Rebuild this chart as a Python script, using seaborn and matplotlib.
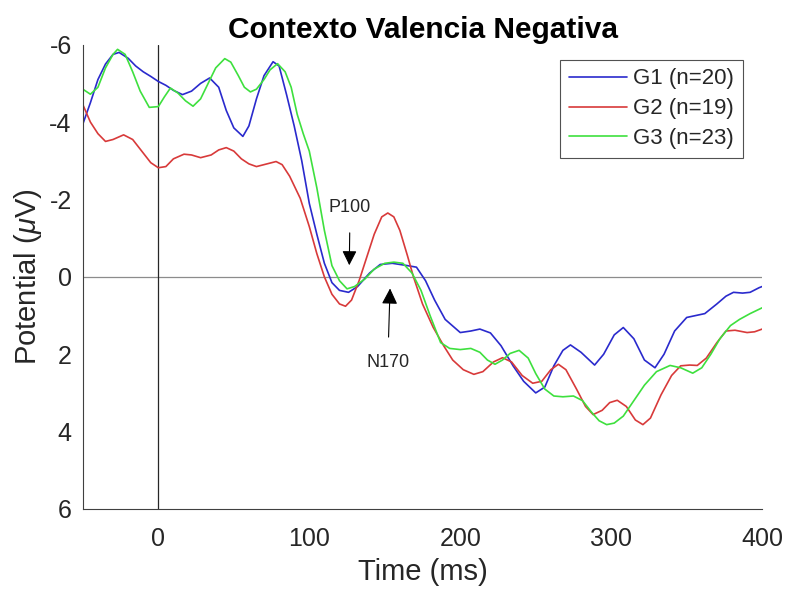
import numpy as np
import pandas as pd
import matplotlib
matplotlib.use("Agg")
import matplotlib.pyplot as plt
import seaborn as sns

g1_x = [-50,-45,-40,-35,-30,-26,-20,-15,-10,-5,0,5,10,16,22,28,34,40,45,50,56,60,65,70,76,80,85,90,95,100,105,110,115,120,126,132,140,147,155,165,171,177,183,190,200,207,213,220,227,235,242,250,256,262,268,273,280,289,295,302,308,315,322,329,335,342,350,356,362,370,376,381,387,392,398,400]
g1_y = [-3.95,-4.5,-5.1,-5.5,-5.75,-5.8,-5.65,-5.45,-5.3,-5.18,-5.05,-4.95,-4.82,-4.71,-4.8,-5.0,-5.14,-4.9,-4.3,-3.85,-3.63,-3.9,-4.6,-5.2,-5.56,-5.45,-4.7,-3.9,-3.0,-1.9,-1.1,-0.35,0.15,0.35,0.4,0.25,-0.1,-0.32,-0.35,-0.29,-0.25,0.1,0.6,1.1,1.44,1.4,1.35,1.45,1.78,2.3,2.7,3.0,2.85,2.3,1.9,1.76,1.95,2.28,2.0,1.5,1.31,1.6,2.15,2.35,2.0,1.4,1.05,1.0,0.95,0.7,0.5,0.4,0.42,0.4,0.28,0.25]

g2_x = [-50,-45,-40,-35,-30,-23,-17,-10,-5,0,5,10,17,22,28,35,40,45,50,55,60,65,70,78,82,87,94,100,105,110,115,120,124,128,133,138,143,148,152,156,160,165,169,175,182,189,195,202,209,215,222,228,234,241,248,254,260,265,270,277,283,288,294,299,304,310,316,321,326,333,340,346,352,357,363,370,376,382,390,395,400]
g2_y = [-4.45,-4.0,-3.7,-3.5,-3.55,-3.67,-3.55,-3.2,-2.95,-2.82,-2.85,-3.05,-3.17,-3.15,-3.08,-3.15,-3.28,-3.34,-3.25,-3.05,-2.92,-2.85,-2.9,-2.98,-2.9,-2.6,-2.03,-1.3,-0.6,0.0,0.45,0.7,0.76,0.6,0.1,-0.5,-1.1,-1.55,-1.65,-1.55,-1.2,-0.55,0.0,0.7,1.3,1.78,2.15,2.4,2.52,2.45,2.2,2.09,2.2,2.55,2.75,2.7,2.4,2.26,2.4,2.9,3.35,3.56,3.45,3.25,3.19,3.35,3.7,3.82,3.65,3.05,2.55,2.3,2.28,2.29,2.1,1.7,1.4,1.38,1.44,1.42,1.35]

g3_x = [-50,-45,-40,-35,-30,-27,-22,-17,-12,-6,0,4,8,13,18,23,28,33,38,44,48,53,57,61,65,70,74,79,84,88,92,96,100,105,110,115,120,125,130,137,143,150,156,162,168,174,180,187,193,200,207,213,218,223,228,233,239,245,250,256,262,268,275,281,287,292,297,302,308,315,322,330,339,346,354,360,366,372,379,385,392,400]
g3_y = [-4.85,-4.72,-4.9,-5.4,-5.75,-5.88,-5.75,-5.3,-4.8,-4.38,-4.4,-4.65,-4.88,-4.75,-4.55,-4.41,-4.6,-5.0,-5.4,-5.64,-5.55,-5.2,-4.9,-4.78,-4.85,-5.1,-5.35,-5.51,-5.3,-4.9,-4.2,-3.7,-3.25,-2.3,-1.2,-0.29,0.1,0.31,0.25,0.05,-0.2,-0.35,-0.38,-0.35,-0.1,0.35,1.0,1.7,1.85,1.88,1.85,1.95,2.15,2.26,2.15,1.98,1.9,2.1,2.5,2.9,3.08,3.1,3.08,3.2,3.5,3.72,3.82,3.78,3.6,3.2,2.8,2.45,2.29,2.35,2.49,2.35,2.0,1.6,1.26,1.1,0.95,0.8]

groups = ["G1 (n=20)", "G2 (n=19)", "G3 (n=23)"]
x_ticks = [0, 100, 200, 300, 400]
y_ticks = [-6, -4, -2, 0, 2, 4, 6]

df = pd.concat([
    pd.DataFrame({"Time": g1_x, "Potential": g1_y, "Group": groups[0]}),
    pd.DataFrame({"Time": g2_x, "Potential": g2_y, "Group": groups[1]}),
    pd.DataFrame({"Time": g3_x, "Potential": g3_y, "Group": groups[2]}),
], ignore_index=True)

sns.set_style("white")
plt.rcParams["font.family"] = ["Liberation Sans", "DejaVu Sans"]
plt.rcParams["axes.unicode_minus"] = False
plt.rcParams["mathtext.fontset"] = "custom"
plt.rcParams["mathtext.it"] = "Liberation Sans:italic"
plt.rcParams["mathtext.rm"] = "Liberation Sans"

fig = plt.figure(figsize=(7.89, 5.96), dpi=100)
ax = fig.add_axes([0.105, 0.146, 0.861, 0.779])

txt = "#262626"
palette = {groups[0]: "#2a2acd", groups[1]: "#d83a3a", groups[2]: "#3ee03e"}
ax.axhline(0, color="#8c8c8c", lw=0.9, zorder=1)
ax.axvline(0, color="#262626", lw=0.9, zorder=1)
sns.lineplot(data=df, x="Time", y="Potential", hue="Group", palette=palette,
             linewidth=1.2, ax=ax, sort=False, estimator=None)

ax.set_xlim(-50, 400)
ax.set_ylim(6, -6)
ax.set_xticks(x_ticks)
ax.set_yticks(y_ticks)
ax.tick_params(direction="in", length=5, width=0.8, labelsize=18, colors=txt)
ax.tick_params(axis="y", pad=8)
ax.tick_params(axis="x", pad=13)
for s in ["top", "right"]:
    ax.spines[s].set_visible(False)
for s in ["left", "bottom"]:
    ax.spines[s].set_color("#404040")
    ax.spines[s].set_linewidth(0.8)

ax.set_xlabel("Time (ms)", fontsize=21, color=txt, labelpad=5)
ax.set_ylabel("Potential ($\\mu$V)", fontsize=21, color=txt, labelpad=4)
ax.set_title("Contexto Valencia Negativa", fontsize=21.5, fontweight="bold", pad=5, color="black")

ax.annotate("P100", xy=(126.5, -0.3), xytext=(127, -1.8), ha="center", va="center",
            fontsize=13, arrowprops=dict(arrowstyle="-|>", color="black", lw=0.8,
                                         mutation_scale=22, shrinkA=10, shrinkB=0))
ax.annotate("N170", xy=(153.5, 0.3), xytext=(152, 2.22), ha="center", va="center",
            fontsize=13, arrowprops=dict(arrowstyle="-|>", color="black", lw=0.8,
                                         mutation_scale=24, shrinkA=10, shrinkB=0))

leg = ax.legend(loc="upper right", bbox_to_anchor=(0.972, 0.968), borderaxespad=0,
                fontsize=16, frameon=True, fancybox=False, edgecolor="#262626",
                handlelength=2.6, handletextpad=0.3, borderpad=0.4, labelspacing=0.4)
leg.get_frame().set_linewidth(0.8)
leg.set_title(None)

fig.savefig("out.png", dpi=100)
